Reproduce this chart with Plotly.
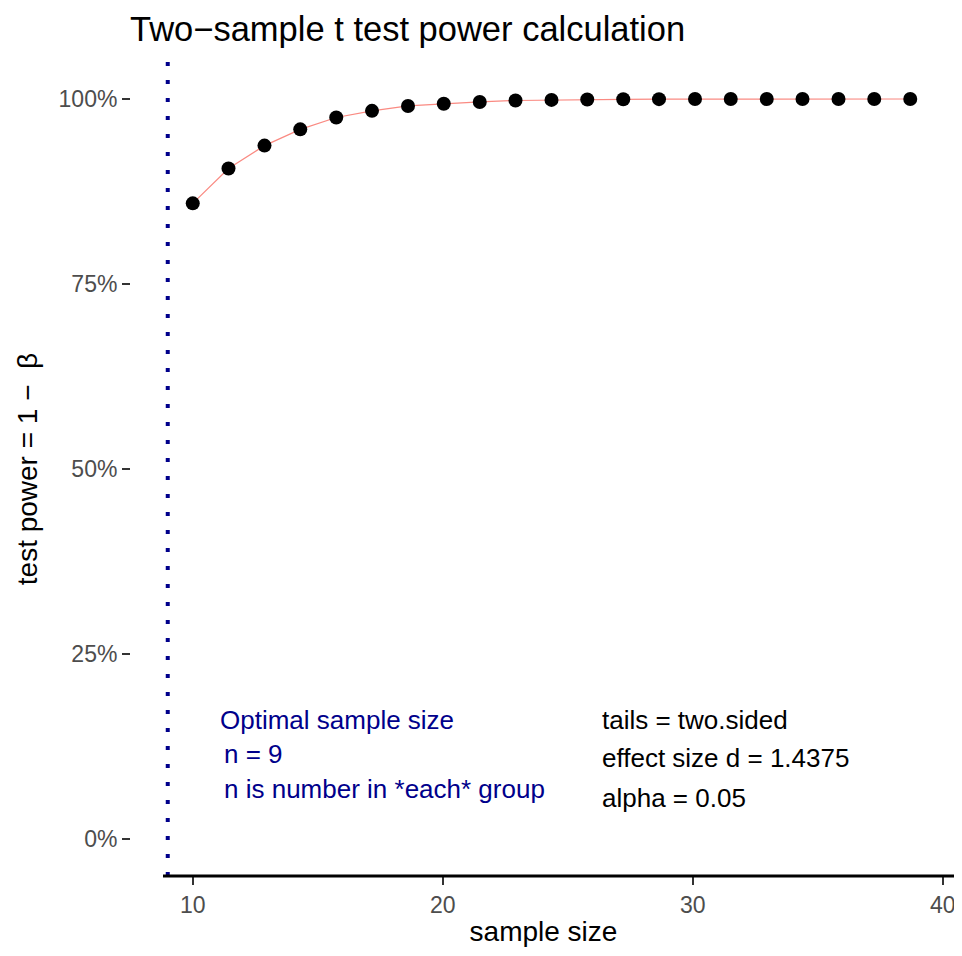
import plotly.graph_objects as go

# ---- data ----
sample_size = [10.0, 11.43, 12.87, 14.30, 15.74, 17.17, 18.61, 20.04, 21.48, 22.91,
               24.35, 25.78, 27.22, 28.65, 30.09, 31.52, 32.96, 34.39, 35.83, 37.26, 38.70]
power = [0.859, 0.906, 0.937, 0.959, 0.975, 0.984, 0.9906, 0.9935, 0.996, 0.998,
         0.9988, 0.9993, 0.9996, 0.9998, 0.9999, 0.99995, 1.0, 1.0, 1.0, 1.0, 1.0]
optimal_n = 9
y_ticks = [0, 0.25, 0.5, 0.75, 1.0]
x_ticks = [10, 20, 30, 40]
left_notes = ["Optimal sample size", "n = 9", "n is number in *each* group"]
right_notes = ["tails = two.sided", "effect size d = 1.4375", "alpha = 0.05"]

FONT = "Liberation Sans, Arial, Helvetica, sans-serif"
BLUE = "#00008B"

# the page body adds an 8px offset, so the figure is sized to fill the rest
W, H = 954, 948

fig = go.Figure()
fig.add_trace(go.Scatter(
    x=sample_size, y=power, mode="lines",
    line=dict(color="#FA8A82", width=1.2), hoverinfo="skip", showlegend=False))
fig.add_trace(go.Scatter(
    x=sample_size, y=power, mode="markers",
    marker=dict(color="black", size=14), showlegend=False))

# vertical dotted line at optimal n
fig.add_shape(type="line", xref="x", yref="paper", x0=optimal_n, x1=optimal_n,
              y0=0, y1=1, line=dict(color=BLUE, width=4, dash="4px,14px"))
# x axis line (starts at the vline)
fig.add_shape(type="line", xref="x", yref="paper", x0=8.81, x1=40.49, y0=0, y1=0,
              line=dict(color="black", width=2.8))

# annotations
left_y = [0.161, 0.115, 0.067]
left_x = [11.01, 11.17, 11.17]
for t, xx, yy in zip(left_notes, left_x, left_y):
    fig.add_annotation(x=xx, y=yy, xref="x", yref="y", text=t,
                       showarrow=False, xanchor="left", yanchor="middle",
                       font=dict(family=FONT, size=26, color=BLUE))
right_y = [0.161, 0.110, 0.056]
for t, yy in zip(right_notes, right_y):
    fig.add_annotation(x=26.29, y=yy, xref="x", yref="y", text=t,
                       showarrow=False, xanchor="left", yanchor="middle",
                       font=dict(family=FONT, size=26, color="black"))

fig.update_layout(
    width=W, height=H,
    margin=dict(l=123, r=6, t=54, b=80),
    plot_bgcolor="white", paper_bgcolor="white",
    font=dict(family=FONT),
    title=dict(text="Two\u2212sample t test power calculation", x=122/W, xref="container",
               xanchor="left", y=1 - 21/H, yanchor="middle",
               font=dict(family=FONT, size=34.5, color="black")),
    xaxis=dict(range=[7.53, 40.53], tickvals=x_ticks, ticks="outside", ticklen=8,
               tickwidth=2, tickcolor="#333333", showgrid=False, zeroline=False,
               showline=False, tickfont=dict(family=FONT, size=23, color="#4D4D4D"),
               title=dict(text="sample size", font=dict(family=FONT, size=28, color="black"),
                          standoff=4)),
    yaxis=dict(range=[-0.05, 1.05], tickvals=y_ticks, tickformat=".0%", ticks="outside",
               ticklen=8, tickwidth=2, tickcolor="#333333", showgrid=False, zeroline=False,
               showline=False, tickfont=dict(family=FONT, size=23, color="#4D4D4D"),
               title=dict(text="test power = 1 \u2212  \u03b2",
                          font=dict(family=FONT, size=28, color="black"), standoff=12)),
)

fig.write_html("out.html")
